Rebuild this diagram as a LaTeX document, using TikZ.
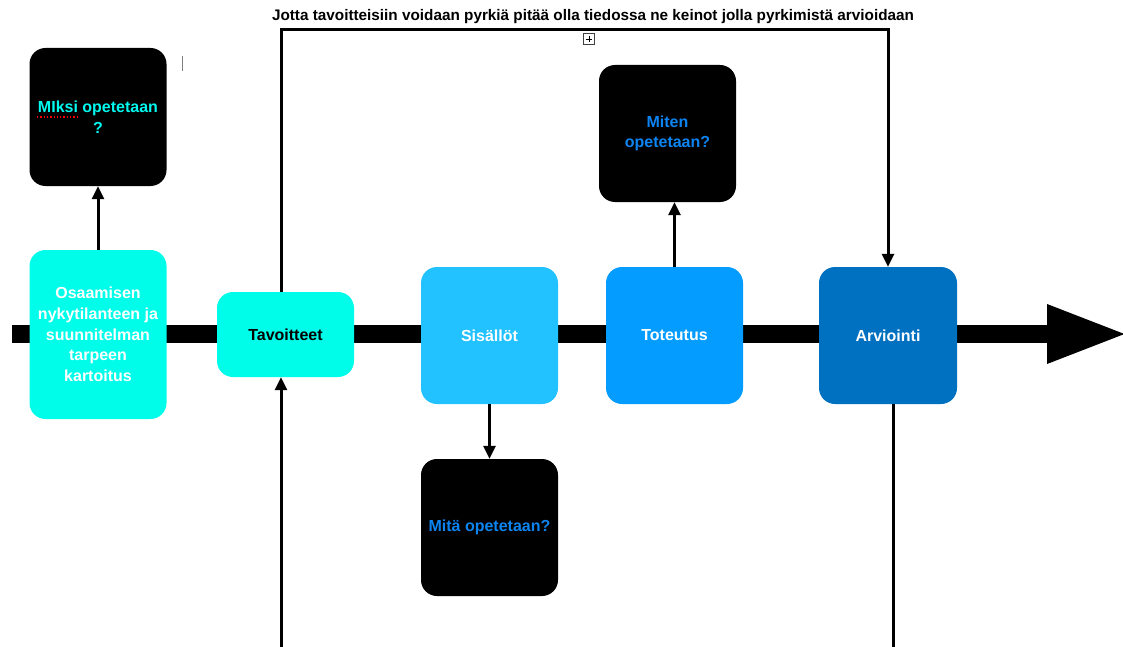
\documentclass[tikz,border=0pt]{standalone}
\usepackage{fontspec}
\setmainfont{Liberation Sans}
\usetikzlibrary{arrows.meta}
\definecolor{cyanbox}{HTML}{00FDEA}
\definecolor{sisblue}{HTML}{22C1FF}
\definecolor{totblue}{HTML}{049DFF}
\definecolor{arvblue}{HTML}{0070C0}
\definecolor{qblue}{HTML}{0C84F2}
\definecolor{qcyan}{HTML}{00F8EE}
\begin{document}
\begin{tikzpicture}[x=1pt,y=-1pt,
box/.style={rounded corners=16pt,minimum width=137pt,minimum height=137pt,inner sep=2pt,align=center,font=\fontsize{16}{20.7}\selectfont\bfseries},
qbox/.style={box,fill=black},
conn/.style={line width=3pt},
arr/.style={conn,-{Triangle[width=12pt,length=13pt]}}]
\useasboundingbox (0,0) rectangle (1123,647);
\coordinate (start) at (12,334);
\coordinate (end) at (1128,334);
\draw[line width=18pt,-{Triangle[width=54pt,length=81pt]}] (start) -- (end);
\node[box,fill=cyanbox,text=white,minimum height=169pt] (osa) at (98,334.5) {Osaamisen\\nykytilanteen ja\\suunnitelman\\tarpeen\\kartoitus};
\node[box,fill=cyanbox,text=black,minimum height=85pt] (tav) at (285.5,334.5) {Tavoitteet};
\node[box,fill=sisblue,text=white] (sis) at (489.5,335.5) {Sisällöt};
\node[box,fill=totblue,text=white] (tot) at (674.5,335.5) {Toteutus};
\node[box,fill=arvblue,text=white,minimum width=138pt] (arv) at (888,335.5) {Arviointi};
\node[qbox,text=qcyan,minimum height=138pt] (miksi) at (98,117) {MIksi opetetaan\\?};
\node[qbox,text=qblue] (miten) at (667.5,133.5) {Miten\\opetetaan?};
\node[qbox,text=qblue] (mita) at (489.5,527.5) {Mitä opetetaan?};
\draw[red,dotted,line width=1.3pt] (37,117) -- (78,117);
\draw[arr] (osa) -- (miksi);
\draw[arr] (sis) -- (mita);
\draw[arr] (tot.north) -- (tot.north |- miten.south);
\coordinate (t1) at (281,29.5);
\coordinate (t2) at (888,29.5);
\coordinate (b1) at (281,647);
\coordinate (b2) at (893,647);
\draw[arr] (t1 |- tav.north) -- (t1) -- (t2) -- (t2 |- arv.north);
\draw[arr] (b1) -- (b1 |- tav.south);
\draw[conn] (b2 |- arv.south) -- (b2);
\node[font=\fontsize{15.3}{17}\selectfont\bfseries] (title) at (593,17) {Jotta tavoitteisiin voidaan pyrkiä pitää olla tiedossa ne keinot jolla pyrkimistä arvioidaan};
\node[draw=darkgray,line width=0.8pt,minimum size=11pt,inner sep=0pt] (plus) at (589,39) {};
\draw[line width=0.8pt] ([xshift=2.5pt]plus.west) -- ([xshift=-2.5pt]plus.east);
\draw[line width=0.8pt] ([yshift=-2.5pt]plus.north) -- ([yshift=2.5pt]plus.south);
\draw[gray,line width=1pt] (182,56) -- (182,71);
\end{tikzpicture}
\end{document}
